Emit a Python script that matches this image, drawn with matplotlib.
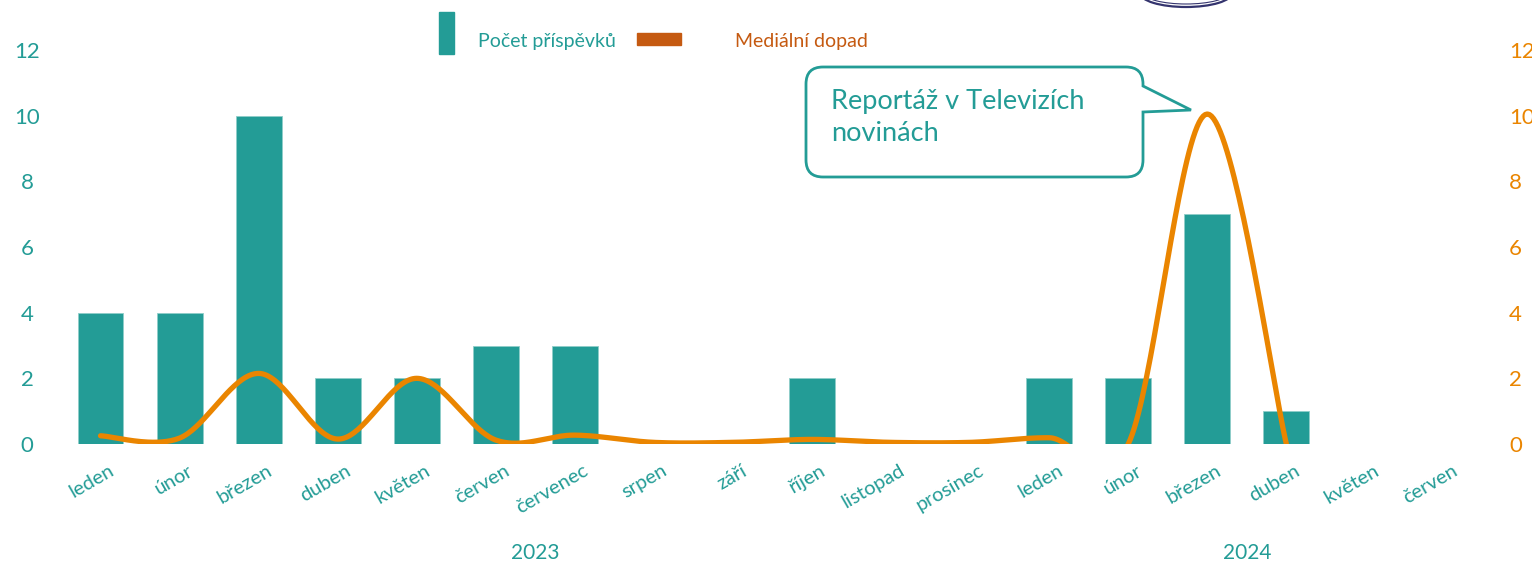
import numpy as np
import matplotlib
matplotlib.use("Agg")
import matplotlib.pyplot as plt
import matplotlib.transforms as mtransforms
from matplotlib.path import Path
from matplotlib.patches import PathPatch, Rectangle, Ellipse

plt.rcParams['font.family'] = ['Lato', 'DejaVu Sans']

# DATA

months = ["leden", "únor", "březen", "duben", "květen", "červen", "červenec",
          "srpen", "září", "říjen", "listopad", "prosinec",
          "leden", "únor", "březen", "duben", "květen", "červen"]
years = ["2023", "2024"]
year_sizes = [12, 6]

posts = [4, 4, 10, 2, 2, 3, 3, 0, 0, 2, 0, 0, 2, 2, 7, 1, 0, 0]
# media impact only known up to duben 2024
impact = [0.25, 0.18, 2.15, 0.15, 2.0, 0.12, 0.27, 0.05, 0.05, 0.14, 0.05, 0.05,
          0.19, 0.0, 10.05, 0.0]

callout_text = "Reportáž v Televizích\nnovinách"

TEAL = "#239C96"
ORANGE = "#EA8500"
DARK_ORANGE = "#C55A11"

W, H = 1532, 566


def smooth(xs, ys, n=40):
    # bezier smoothing, similar to office "smoothed line"
    pts = np.column_stack([xs, ys]).astype(float)
    padded = np.vstack([pts[0], pts, pts[-1]])
    out = []
    t = np.linspace(0, 1, n)[:, None]
    for i in range(len(pts) - 1):
        p0, p1, p2, p3 = padded[i], padded[i + 1], padded[i + 2], padded[i + 3]
        c1 = p1 + (p2 - p0) / 6
        c2 = p2 - (p3 - p1) / 6
        seg = (1 - t)**3 * p1 + 3 * (1 - t)**2 * t * c1 + 3 * (1 - t) * t**2 * c2 + t**3 * p2
        out.append(seg)
    return np.vstack(out)


def fx(px):
    return px / W


def fy(py):
    return 1 - py / H


fig = plt.figure(figsize=(W / 100, H / 100), dpi=100)
ax = fig.add_axes([fx(61), fy(444), fx(1484) - fx(61), fy(50) - fy(444)])
ax2 = ax.twinx()

x = np.arange(len(months))
ax.bar(x, posts, width=0.58, color=TEAL, edgecolor="#8fcdc9", linewidth=0.6, zorder=2)

curve = smooth(np.arange(len(impact)), impact)
ax2.plot(curve[:, 0], curve[:, 1], color=ORANGE, lw=3.8, solid_capstyle="round", zorder=3)

for a in (ax, ax2):
    a.set_ylim(0, 12)
    a.set_xlim(-0.5, len(months) - 0.5)
    for s in a.spines.values():
        s.set_visible(False)
    a.set_yticks(range(0, 13, 2))

ax.tick_params(axis="y", length=0, pad=24.5, labelsize=16, labelcolor=TEAL)
ax2.tick_params(axis="y", length=0, pad=18, labelsize=16, labelcolor=ORANGE)
for lab in ax.get_yticklabels():
    lab.set_horizontalalignment("center")

ax.set_xticks(x)
ax.set_xticklabels(months, rotation=30, ha="right", rotation_mode="anchor",
                   fontsize=14.5, color=TEAL)
ax.tick_params(axis="x", length=0, pad=13)
shift = mtransforms.ScaledTranslation(0.08, 0, fig.dpi_scale_trans)
for lab in ax.get_xticklabels():
    lab.set_transform(lab.get_transform() + shift)

# year labels
start = 0
for yr, n in zip(years, year_sizes):
    center = start + (n - 1) / 2
    ax.text(center, fy(553), yr, transform=mtransforms.blended_transform_factory(ax.transData, fig.transFigure),
            ha="center", va="center", fontsize=15, color=TEAL)
    start += n

# legend drawn by hand
fig.patches.append(Rectangle((fx(439), fy(54)), fx(15), fy(12) - fy(54), transform=fig.transFigure,
                             color=TEAL, figure=fig))
fig.text(fx(478), fy(41), "Počet příspěvků", fontsize=14, color=TEAL, va="center")
fig.patches.append(Rectangle((fx(637), fy(45)), fx(44), fy(33) - fy(45), transform=fig.transFigure,
                             color=DARK_ORANGE, figure=fig))
fig.text(fx(735), fy(41), "Mediální dopad", fontsize=14, color=DARK_ORANGE, va="center")

# callout box with tail
L, R, T, B, r = 806, 1143, 67, 177, 17
verts = [(L + r, T), (R - r, T), (R, T), (R, T + r), (R, 86), (1191, 110), (R, 112),
         (R, B - r), (R, B), (R - r, B), (L + r, B), (L, B), (L, B - r), (L, T + r),
         (L, T), (L + r, T), (L + r, T)]
codes = [Path.MOVETO, Path.LINETO, Path.CURVE3, Path.CURVE3, Path.LINETO, Path.LINETO, Path.LINETO,
         Path.LINETO, Path.CURVE3, Path.CURVE3, Path.LINETO, Path.CURVE3, Path.CURVE3, Path.LINETO,
         Path.CURVE3, Path.CURVE3, Path.CLOSEPOLY]
path = Path([(fx(a), fy(b)) for a, b in verts], codes)
fig.patches.append(PathPatch(path, transform=fig.transFigure, facecolor="white",
                             edgecolor=TEAL, lw=2, figure=fig, zorder=5))
fig.text(fx(831), fy(89), callout_text, fontsize=19.5, color=TEAL, va="top", ha="left",
         linespacing=1.35, zorder=6)

# partial logo at top edge
for w, h, lw in [(92, 28, 1.6), (84, 22, 0.8)]:
    fig.patches.append(Ellipse((fx(1186), fy(-7)), fx(w), fy(0) - fy(h), transform=fig.transFigure,
                               fill=False, edgecolor="#34346e", lw=lw, figure=fig))

fig.savefig("out.png", dpi=100)
